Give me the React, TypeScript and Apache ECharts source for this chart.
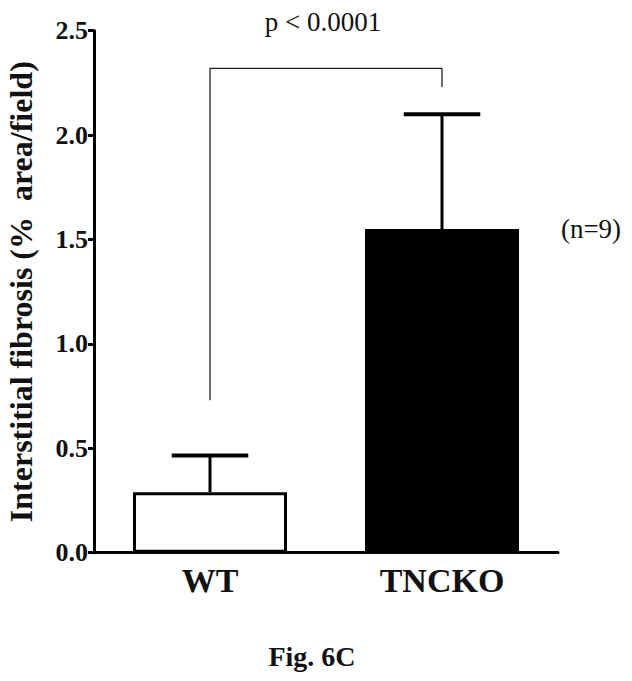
import React, { useEffect, useRef } from "react";
import * as echarts from "echarts";

const categories = ["WT", "TNCKO"];
const means = [0.29, 1.55];
const errorTops = [0.465, 2.1];
const yTicks = [0, 0.5, 1.0, 1.5, 2.0, 2.5];
const bracket = [
  [0, 0.73],
  [0, 2.32],
  [1, 2.32],
  [1, 2.23],
];
const pText = "p < 0.0001";
const nText = "(n=9)";
const figText = "Fig. 6C";
const yName = "Interstitial fibrosis (%  area/field)";

const SERIF = "Liberation Serif";

export default function App() {
  const ref = useRef<HTMLDivElement>(null);
  useEffect(() => {
    if (!ref.current) return;
    const chart = echarts.init(ref.current, undefined, { renderer: "svg" });
    chart.setOption({
      animation: false,
      backgroundColor: "#ffffff",
      grid: {
        left: 94,
        right: 74,
        top: 30.7,
        bottom: 128.3,
        containLabel: false,
        outerBoundsMode: "none",
      },
      xAxis: {
        type: "category",
        data: categories,
        axisLine: { lineStyle: { color: "#000", width: 3 } },
        axisTick: { alignWithLabel: true, length: 8, lineStyle: { color: "#000", width: 2 } },
        axisLabel: {
          color: "#111",
          fontFamily: SERIF,
          fontWeight: "bold",
          fontSize: 34,
          margin: 11,
        },
      },
      yAxis: {
        type: "value",
        min: yTicks[0],
        max: yTicks[yTicks.length - 1],
        interval: 0.5,
        splitLine: { show: false },
        axisLine: { show: true, lineStyle: { color: "#000", width: 3 } },
        axisTick: { show: true, length: 6, lineStyle: { color: "#000", width: 3 } },
        axisLabel: {
          color: "#111",
          fontFamily: SERIF,
          fontWeight: "bold",
          fontSize: 26,
          margin: 6,
          formatter: (v: number) => v.toFixed(1),
        },
        name: yName,
        nameLocation: "middle",
        nameGap: 57,
        nameTextStyle: {
          color: "#111",
          fontFamily: SERIF,
          fontWeight: "bold",
          fontSize: 32,
        },
      },
      series: [
        {
          type: "bar",
          data: [
            { value: means[0], itemStyle: { color: "#fff", borderColor: "#000", borderWidth: 3 } },
            { value: means[1], itemStyle: { color: "#000", borderColor: "#000", borderWidth: 3 } },
          ],
          barWidth: 154,
          z: 2,
        },
        {
          type: "custom",
          z: 3,
          data: categories.map((_, i) => [i, means[i], errorTops[i]]),
          renderItem: (params: any, api: any) => {
            const x = api.value(0);
            const p0 = api.coord([x, api.value(1)]);
            const p1 = api.coord([x, api.value(2)]);
            const half = api.size([1, 0])[0] * 0.165;
            return {
              type: "group",
              children: [
                {
                  type: "line",
                  shape: { x1: p0[0], y1: p0[1], x2: p1[0], y2: p1[1] },
                  style: { stroke: "#000", lineWidth: 3 },
                },
                {
                  type: "line",
                  shape: { x1: p1[0] - half, y1: p1[1], x2: p1[0] + half, y2: p1[1] },
                  style: { stroke: "#000", lineWidth: 4 },
                },
              ],
            };
          },
        },
        {
          type: "line",
          data: bracket,
          symbol: "none",
          z: 4,
          lineStyle: { color: "#222", width: 1.3 },
        },
      ],
      graphic: [
        {
          type: "text",
          style: {
            text: pText,
            x: 323,
            y: 22,
            align: "center",
            verticalAlign: "middle",
            fontFamily: SERIF,
            fontSize: 27,
            fill: "#111",
          },
        },
        {
          type: "text",
          style: {
            text: nText,
            x: 591,
            y: 229,
            align: "center",
            verticalAlign: "middle",
            fontFamily: SERIF,
            fontSize: 27,
            fill: "#111",
          },
        },
        {
          type: "text",
          style: {
            text: figText,
            x: 312,
            y: 656,
            align: "center",
            verticalAlign: "middle",
            fontFamily: SERIF,
            fontWeight: "bold",
            fontSize: 28,
            fill: "#111",
          },
        },
      ],
    });
    return () => chart.dispose();
  }, []);
  return (
    <div
      ref={ref}
      style={{ position: "fixed", left: 0, top: 0, width: 632, height: 681, background: "#fff" }}
    />
  );
}
